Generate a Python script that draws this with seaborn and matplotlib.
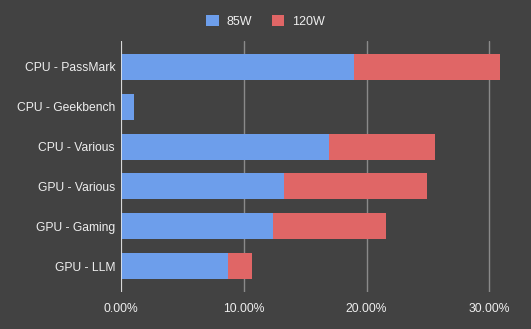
import matplotlib
matplotlib.use("Agg")
import matplotlib.pyplot as plt
import matplotlib.ticker as mticker
from matplotlib.patches import Patch
import seaborn as sns
import pandas as pd

categories = ["CPU - PassMark", "CPU - Geekbench", "CPU - Various",
              "GPU - Various", "GPU - Gaming", "GPU - LLM"]
w85 = [0.190, 0.010, 0.169, 0.133, 0.1235, 0.0868]
w120 = [0.1185, 0.0, 0.0865, 0.1165, 0.092, 0.0196]
series_names = ["85W", "120W"]
xticks = [0.0, 0.1, 0.2, 0.3]

BG = "#424242"
BLUE = "#6d9eeb"
RED = "#e06666"
TXT = "#eeeeee"

sns.set_theme(style="dark")
plt.rcParams["font.family"] = ["Liberation Sans", "DejaVu Sans"]

df = pd.DataFrame({"cat": categories, "w85": w85, "w120": w120})
df["total"] = df["w85"] + df["w120"]

fig = plt.figure(figsize=(5.31, 3.29), dpi=100, facecolor=BG)
ax = fig.add_axes([0.2284, 0.1125, 0.979 - 0.2284, 0.8754 - 0.1125])
ax.set_facecolor(BG)

sns.barplot(data=df, y="cat", x="total", color=RED, orient="h", width=0.65,
            saturation=1, ax=ax, zorder=3, edgecolor="none", linewidth=0)
sns.barplot(data=df, y="cat", x="w85", color=BLUE, orient="h", width=0.65,
            saturation=1, ax=ax, zorder=4, edgecolor="none", linewidth=0)

ax.set_xlim(0, 0.325)
ax.set_ylim(5.65, -0.65)
ax.set_xticks(xticks)
ax.xaxis.set_major_formatter(mticker.FuncFormatter(lambda v, p: f"{v*100:.2f}%"))
ax.set_xlabel("")
ax.set_ylabel("")
ax.grid(axis="x", color="#8a8a8a", linewidth=1, zorder=0)
ax.grid(axis="y", visible=False)
for s in ax.spines.values():
    s.set_visible(False)
ax.axvline(0, color="#e8e8e8", linewidth=1.2, zorder=5)
ax.tick_params(axis="both", length=0, colors=TXT, labelsize=8.7)
ax.tick_params(axis="y", pad=4.5)
ax.tick_params(axis="x", pad=8)

handles = [Patch(facecolor=BLUE, edgecolor="none", label=series_names[0]),
           Patch(facecolor=RED, edgecolor="none", label=series_names[1])]
fig.legend(handles=handles, loc="center", bbox_to_anchor=(0.5, 0.935), ncol=2,
           frameon=False, handlelength=1.0, handleheight=1.0, handletextpad=0.6,
           columnspacing=1.6, labelcolor=TXT, fontsize=9)

fig.savefig("out.png", dpi=100, facecolor=BG)
